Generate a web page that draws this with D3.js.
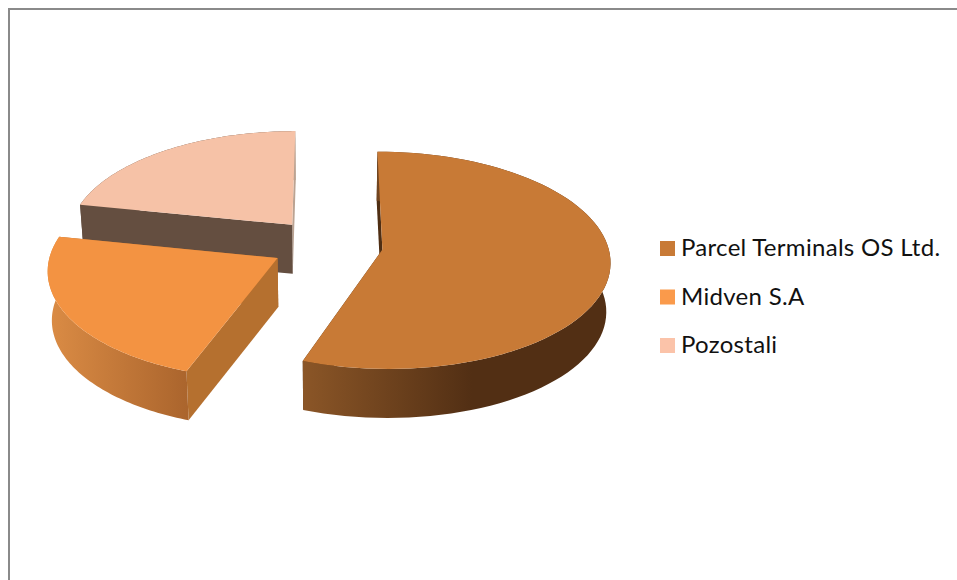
<!DOCTYPE html>
<html>
<head>
    <meta charset="utf-8" />
    <title>Pie chart</title>
    <script src="https://d3js.org/d3.v7.min.js"></script>
    <style>
        html, body { margin: 0; padding: 0; background: #fff; overflow: hidden; }
        svg { display: block; }
        .legend text { font-family: Lato, "Open Sans", sans-serif; font-size: 24px; letter-spacing: 0.3px; fill: #111; }
    </style>
</head>
<body>
    <svg id="chart" width="957" height="580"></svg>

<script>
    // Data
    const categories = ["Parcel Terminals OS Ltd.", "Midven S.A", "Pozostali"];
    const shares = [55.55, 22.65, 21.8];

    // Colours per slice
    const topColors = ["#C87A36", "#F39342", "#F6C2A7"];
    const legendColors = ["#C87A36", "#FA9A4B", "#FBC3A9"];
    const startWallColors = ["#4F2E13", "#B5702F", "#644E40"];
    const endWallColors = ["#4F2E13", "#B5702F", "#BBA392"];
    const rimStops = [
        [[0, "#8B5627"], [0.55, "#522F14"], [1, "#522F14"]],
        [[0, "#DB8C45"], [1, "#AB652D"]],
        [[0, "#644E40"], [0.975, "#644E40"], [0.985, "#BBA392"], [1, "#BBA392"]]
    ];

    const width = 957;
    const height = 580;

    // Pie geometry: a flat disc seen from above with slight perspective
    const cx = 327, cy = 245;
    const radius = 225.5;
    const explode = 56;
    const tilt = 0.473;
    const persp = 0.0979;
    const depth = 49;
    const shrink = 0.985; // bottom face is a bit narrower than the top face

    const svg = d3.select("#chart");
    const defs = svg.append("defs");

    // Frame of the chart area, its right and bottom edges run off the picture
    svg.append("rect")
        .attr("x", 9)
        .attr("y", 9)
        .attr("width", width + 20)
        .attr("height", height + 20)
        .attr("fill", "none")
        .attr("stroke", "#8A8A8A")
        .attr("stroke-width", 2);

    const slices = d3.pie().sort(null)(shares);

    function project(px, py, bottom) {
        const s = 1 / (1 - persp * py / radius);
        const z = bottom ? shrink : 1;
        return [cx + px * s * z, cy + tilt * py * s + (bottom ? depth : 0)];
    }

    const line = d3.line();

    function drawSlice(d, i) {
        const mid = (d.startAngle + d.endAngle) / 2;
        const ox = explode * Math.sin(mid);
        const oy = -explode * Math.cos(mid);
        const at = (r, a, bottom) => project(ox + r * Math.sin(a), oy - r * Math.cos(a), bottom);

        const angles = d3.range(0, 81).map(k => d.startAngle + (d.endAngle - d.startAngle) * k / 80);
        const topArc = angles.map(a => at(radius, a, false));
        const bottomArc = angles.map(a => at(radius, a, true));
        const apexTop = at(0, 0, false);
        const apexBottom = at(0, 0, true);

        const g = svg.append("g");

        // Cut faces, the end face goes first so the start face overlaps it
        [[d.endAngle, endWallColors[i]], [d.startAngle, startWallColors[i]]].forEach(w => {
            g.append("path")
                .attr("d", line([apexTop, at(radius, w[0], false), at(radius, w[0], true), apexBottom]) + "Z")
                .attr("fill", w[1]);
        });

        // Outer rim, shaded left to right
        const xs = d3.extent(topArc.concat(bottomArc), p => p[0]);
        const gradId = "rim" + i;
        const grad = defs.append("linearGradient")
            .attr("id", gradId)
            .attr("gradientUnits", "userSpaceOnUse")
            .attr("x1", i === 0 ? topArc[80][0] : xs[0])
            .attr("x2", i === 1 ? topArc[0][0] : xs[1])
            .attr("y1", 0).attr("y2", 0);
        rimStops[i].forEach(s => grad.append("stop").attr("offset", s[0]).attr("stop-color", s[1]));

        g.append("path")
            .attr("d", line(topArc.concat(bottomArc.slice().reverse())) + "Z")
            .attr("fill", "url(#" + gradId + ")");

        // Top face
        g.append("path")
            .attr("d", line([apexTop].concat(topArc)) + "Z")
            .attr("fill", topColors[i]);
    }

    // Back slice first, so that the front ones sit over it
    [2, 0, 1].forEach(i => drawSlice(slices[i], i));

    // Legend
    const legendY = d3.scalePoint()
        .domain(categories)
        .range([256, 353]);

    const legend = svg.append("g").attr("class", "legend");

    legend.selectAll("rect")
        .data(categories)
        .enter().append("rect")
        .attr("x", 660)
        .attr("y", d => legendY(d) - 15)
        .attr("width", 15)
        .attr("height", 15)
        .attr("fill", (d, i) => legendColors[i]);

    legend.selectAll("text")
        .data(categories)
        .enter().append("text")
        .attr("x", 681)
        .attr("y", d => legendY(d))
        .text(d => d);
</script>
</body>
</html>
